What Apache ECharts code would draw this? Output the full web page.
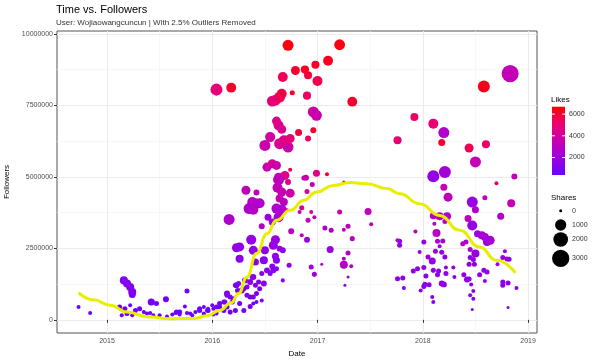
<!DOCTYPE html>
<html><head><meta charset="utf-8">
<script src="https://cdn.jsdelivr.net/npm/echarts@6/dist/echarts.min.js"></script>
<style>html,body{margin:0;padding:0;background:#fff}#c{width:600px;height:360px}</style>
</head><body><div id="c"></div>
<script>
// ---- data (decimal year, followers, likes, shares) ----
const dates = [
 2016.72,2017.21,2017.10,2016.98,2016.79,2016.88,2016.91,2017.00,2016.67,2016.04,
 2016.18,2016.76,2016.90,2017.33,2016.60,2016.64,2016.57,2016.66,2016.96,2016.99,
 2016.61,2016.63,2016.66,2016.82,2016.96,2016.91,2017.76,2016.50,2016.55,2016.64,
 2016.72,2016.68,2016.74,2016.52,2016.57,2016.61,2016.74,2016.99,2017.09,2016.63,
 2016.69,2016.87,
 2016.63,2016.72,2016.89,2016.95,2016.90,2016.32,2016.42,2016.38,2016.41,2016.45,
 2016.35,2016.39,2016.62,2016.66,2016.74,2016.64,2016.68,2016.61,2016.66,2016.63,
 2016.71,2016.85,2016.83,2016.16,2016.53,2016.57,2016.47,2016.91,2016.97,2016.94,
 2017.21,2017.48,2017.25,2017.07,2017.13,2017.25,2017.29,2017.51,2017.33,2016.75,
 2016.85,2016.90,2017.12,2017.29,2016.37,2016.26,2016.23,2016.39,2016.60,2016.58,
 2016.64,2016.67,2016.50,2016.49,2016.26,2016.41,2016.60,2016.61,2016.73,2016.57,
 2016.58,2016.94,2016.97,2017.04,2017.25,2017.25,2017.32,2017.29,2017.26,2016.67,
 2017.76,
 2016.14,2016.17,2016.12,2016.20,2016.23,2016.28,2016.33,2016.36,2016.39,2016.42,
 2016.45,2016.47,2016.36,2016.26,2016.22,2016.30,2016.07,2016.01,2015.95,2015.92,
 2016.04,2016.39,2016.44,2016.49,2016.52,2016.55,2016.47,2016.61,
 2015.56,2015.76,2015.43,2015.47,2015.65,2015.69,2015.74,2015.79,2015.84,2015.88,
 2015.92,2015.96,2016.00,2016.04,2016.07,2016.11,2016.14,2016.19,2016.22,2016.25,
 2016.24,2016.30,2016.33,2016.36,2016.39,2016.42,2016.31,2016.41,2016.38,2014.73,
 2014.84,2015.16,2015.19,2015.22,2015.24,2015.24,2015.42,
 2015.12,2015.17,2015.22,2015.27,2015.31,2015.35,2015.19,2015.14,2015.24,2015.38,
 2015.41,2015.44,2015.50,2015.57,2015.62,2015.66,2015.69,2015.76,2015.81,2015.88,
 2015.92,2015.96,2016.01,2016.04,2016.11,2016.14,2016.17,
 2018.58,2018.83,2017.92,2018.10,2018.20,2018.18,2018.44,2018.60,2018.50,2018.10,
 2018.21,2018.20,2018.24,2018.47,2018.50,2018.59,2018.70,2018.87,2018.84,2018.74,
 2018.10,2018.16,2018.23,2018.11,2018.21,2018.43,2018.47,2018.13,2017.93,
 2018.01,2018.14,2018.19,2018.16,2018.38,2018.41,2018.52,2018.56,2018.59,2018.61,
 2018.64,2017.78,2017.78,2017.97,2018.05,2018.09,2018.12,2018.18,2018.21,2018.45,
 2018.50,2018.45,2018.48,2018.44,2018.49,2018.78,2018.76,2018.80,2018.82,2018.71,
 2017.91,2017.95,2018.01,2018.10,2018.15,2018.03,2018.14,2018.22,2018.29,2018.22,
 2017.76,2017.81,2017.82,2017.98,2018.02,2018.06,2018.01,2018.18,2018.20,2018.30,
 2018.39,2018.42,2018.44,2018.54,2018.58,2018.61,2018.59,2018.46,2018.48,2018.45,
 2018.48,2018.76,2018.76,2018.81,2018.89,2018.09,2018.10,2018.47,2018.81
];
const followers = [
 9600000,9620000,9060000,8920000,8720000,8750000,8550000,8350000,8490000,8050000,
 8120000,7940000,7840000,7630000,7680000,7790000,7650000,7910000,7270000,7150000,
 6950000,6800000,6660000,6550000,6630000,6340000,6280000,6100000,6390000,6160000,
 6040000,6280000,6340000,5340000,5460000,5400000,5250000,5130000,5090000,4990000,
 5050000,4960000,
 4900000,4820000,4970000,4730000,4490000,4530000,4450000,4120000,4060000,4080000,
 3890000,3850000,4620000,4470000,4430000,4240000,4120000,3890000,3850000,3590000,
 3830000,3920000,3770000,3510000,3590000,3420000,3270000,3480000,3590000,3770000,
 3770000,3790000,4820000,3210000,3130000,3150000,3270000,3340000,2840000,3100000,
 2960000,2800000,2460000,2340000,2800000,2550000,2520000,2430000,2800000,2610000,
 2490000,2430000,2430000,2080000,2140000,2020000,2220000,2080000,1910000,1870000,
 1730000,1850000,1590000,1940000,1930000,2140000,1870000,1500000,1210000,1380000,
 2780000,
 920000,800000,620000,740000,1210000,1030000,1150000,1320000,800000,920000,
 1090000,680000,470000,570000,330000,330000,450000,390000,330000,220000,
 220000,1500000,1320000,1270000,1730000,1620000,1620000,1790000,
 720000,1010000,620000,570000,240000,270000,470000,220000,270000,330000,
 450000,390000,510000,450000,570000,620000,860000,620000,1210000,1270000,
 1030000,1090000,860000,800000,570000,620000,1380000,1210000,1500000,450000,
 240000,1380000,1270000,1150000,970000,890000,620000,
 450000,390000,510000,330000,390000,270000,220000,160000,160000,220000,
 240000,160000,160000,120000,190000,270000,190000,240000,160000,390000,
 190000,330000,190000,270000,330000,450000,270000,
 8160000,8610000,7090000,6860000,6550000,6200000,6010000,6140000,5520000,5020000,
 5170000,4640000,4290000,4120000,3850000,4270000,4780000,5010000,4080000,3620000,
 3640000,3620000,3620000,3360000,3440000,3540000,3300000,3040000,3090000,
 2720000,2750000,2760000,2570000,2660000,2720000,3010000,2960000,2900000,2720000,
 2780000,2750000,2610000,2370000,2200000,2060000,2400000,2360000,2200000,2460000,
 2320000,2180000,2110000,1940000,1940000,2400000,2180000,2130000,2120000,1940000,
 1710000,1790000,1830000,1730000,1710000,1530000,1580000,1620000,1830000,1830000,
 1440000,1460000,1110000,1030000,1240000,1230000,1170000,1270000,1240000,1500000,
 1580000,1410000,1430000,1580000,1730000,1670000,1360000,1240000,1010000,860000,
 740000,1320000,1210000,1290000,1110000,800000,620000,360000,430000
];
const likes = [
 6500,6400,6200,6100,6000,6300,5900,5600,5400,4900,
 6100,6200,5300,6000,5200,5500,4900,5700,3800,3600,
 4700,4500,4400,5900,6000,5300,4900,3600,3900,4300,
 3700,4600,5000,3500,4200,3700,5800,4600,6000,3400,
 4500,3300,
 3200,4400,3600,3400,4300,3200,3300,2700,3000,2600,
 2500,2900,3300,3500,3700,3400,3200,2600,2500,2400,
 4300,4400,3500,2600,2000,2100,3000,3300,3400,4200,
 3600,3400,5300,2500,2700,3000,3200,3300,3000,3000,
 3100,2000,1900,2900,1800,1600,1700,1600,1900,1800,
 1700,1500,1500,1400,1400,1400,1600,1500,1500,1400,
 1300,2200,1700,3000,2900,2500,2800,1500,1300,1300,
 3000,
 1100,900,800,900,1200,1000,1100,1200,900,1100,
 1200,900,700,800,700,700,700,600,600,500,
 600,1300,1200,1300,1400,1300,1300,1400,
 700,700,600,600,500,500,500,500,500,600,
 600,600,600,700,700,800,1000,800,1100,1100,
 1000,1100,900,900,800,800,1200,1200,1300,500,
 500,1300,1200,1200,1100,1100,700,
 500,500,500,500,500,500,450,450,450,450,
 450,450,450,450,450,500,450,450,450,500,
 450,500,450,500,600,650,600,
 6300,3300,5300,5100,2700,6000,5500,5200,3400,1700,
 2300,3500,3100,1900,2600,3300,5200,3600,3500,2800,
 3000,3100,2800,3000,3100,3200,1800,3000,3000,
 1800,2300,2300,1900,2800,2500,2000,2300,2400,2000,
 2300,1800,1700,1800,1900,1800,2000,1800,1700,2800,
 1800,1700,1800,1700,1600,1800,1800,1800,1700,2000,
 1600,1600,1700,1600,1700,1500,1600,1600,1700,1700,
 1500,1500,1400,1400,1500,1500,1500,1500,1600,1500,
 1600,1500,1500,1600,1600,1600,1500,1400,1400,1300,
 1300,1500,1500,1500,1400,1300,1300,1100,1100
];
const shares = [
 940,900,700,380,520,400,380,720,700,1190,
 700,60,380,700,900,950,900,700,950,900,
 520,700,520,235,130,130,380,940,720,940,
 900,700,520,530,530,530,15,235,15,530,
 530,60,
 940,130,130,60,60,530,130,720,940,720,
 940,720,720,530,530,370,370,720,720,720,
 15,60,15,940,235,235,130,60,15,15,
 60,235,0,60,60,15,60,15,60,130,
 15,130,235,60,720,530,530,530,530,530,
 130,130,370,370,370,235,235,235,60,130,
 130,60,60,0,370,15,15,0,0,15,
 15,
 130,60,60,60,130,130,60,130,60,60,
 60,15,60,60,60,60,60,15,15,15,
 15,130,60,130,130,60,60,60,
 130,60,60,60,15,60,15,15,15,60,
 15,15,15,60,60,60,60,60,60,60,
 60,60,60,60,15,15,130,60,60,15,
 15,370,370,370,370,235,235,
 60,60,15,60,60,15,60,15,15,15,
 15,15,15,15,15,60,15,15,15,60,
 15,60,15,15,60,60,60,
 1190,2900,370,720,940,235,530,370,940,1190,
 1190,235,530,940,235,60,15,130,370,235,
 235,370,370,15,60,235,720,370,15,
 60,60,60,15,60,60,235,370,370,370,
 530,60,60,15,60,235,60,60,60,60,
 370,60,60,60,60,15,60,60,60,15,
 60,60,60,60,60,60,60,60,15,15,
 60,60,15,15,60,60,60,130,130,15,
 60,130,60,60,60,60,15,15,15,15,
 15,60,60,60,15,15,15,0,0
];
// loess trend
const trendDates = [2014.73,2014.87,2015.03,2015.19,2015.38,2015.60,2015.82,2015.96,2016.07,2016.18,
  2016.25,2016.33,2016.42,2016.52,2016.61,2016.74,2016.87,2016.99,2017.15,2017.31,
  2017.47,2017.66,2017.78,2017.97,2018.16,2018.35,2018.54,2018.70,2018.88];
const trendFollowers = [950000,700000,510000,270000,110000,40000,50000,150000,330000,600000,
  920000,1500000,2320000,3010000,3480000,3830000,4180000,4470000,4700000,4800000,
  4760000,4590000,4410000,4060000,3650000,3130000,2550000,2080000,1640000];
// axes / legend values
const xTicks = [2015, 2016, 2017, 2018, 2019];
const xMinorTicks = [2015.5, 2016.5, 2017.5, 2018.5];
const yTicks = [0, 2500000, 5000000, 7500000, 10000000];
const yMinorTicks = [1250000, 3750000, 6250000, 8750000];
const likesLegendTicks = [2000, 4000, 6000];
const sharesLegendValues = [0, 1000, 2000, 3000];
const likesRange = [390, 6680];
const likeColors = ['#6c00ff', '#9c00e0', '#c800b0', '#ea0070', '#ff0000'];

if (new Set([dates.length, followers.length, likes.length, shares.length]).size !== 1) {
  throw new Error('length mismatch ' + [dates.length, followers.length, likes.length, shares.length]);
}

const FONT = '"Liberation Sans", Arial, sans-serif';
const X_MIN = 2014.525, X_MAX = 2019.085, Y_MIN = -460000, Y_MAX = 10100000;
const sizeOf = s => 3 + 14.3 * Math.sqrt(s / 3000);

const points = dates.map((d, i) => [d, followers[i], likes[i], shares[i]]);
const trend = trendDates.map((d, i) => [d, trendFollowers[i]]);

const chart = echarts.init(document.getElementById('c'), null, {renderer: 'canvas'});

// legend graphics
const g = [];
const LX = 552;
g.push({type:'text', left: LX - 1, top: 96, style:{text:'Likes', fontSize: 8, fontFamily: FONT, fill:'#000'}});
const barTop = 106.7, barH = 68.3, barW = 13;
g.push({type:'rect', shape:{x: LX, y: barTop, width: barW, height: barH},
  style:{fill:{type:'linear', x:0, y:1, x2:0, y2:0,
    colorStops: likeColors.map((c, i) => ({offset: i / (likeColors.length - 1), color: c}))}}});
likesLegendTicks.forEach(v => {
  const y = barTop + barH - (v - likesRange[0]) / (likesRange[1] - likesRange[0]) * barH;
  g.push({type:'line', shape:{x1: LX, y1: y, x2: LX + 3, y2: y}, style:{stroke:'#fff', lineWidth: 1}});
  g.push({type:'line', shape:{x1: LX + barW - 3, y1: y, x2: LX + barW, y2: y}, style:{stroke:'#fff', lineWidth: 1}});
  g.push({type:'text', x: LX + barW + 4, y: y, style:{text: String(v), fontSize: 7, fontFamily: FONT, fill:'#333',
    textVerticalAlign:'middle', verticalAlign:'middle'}});
});
g.push({type:'text', left: LX - 1, top: 194, style:{text:'Shares', fontSize: 8, fontFamily: FONT, fill:'#000'}});
const keyY = [210.7, 225, 239.5, 258.3];
sharesLegendValues.forEach((v, i) => {
  g.push({type:'circle', shape:{cx: 560.7, cy: keyY[i], r: sizeOf(v) / 2}, style:{fill:'#000'}});
  g.push({type:'text', x: 572, y: keyY[i], style:{text: String(v), fontSize: 7, fontFamily: FONT, fill:'#333',
    textVerticalAlign:'middle', verticalAlign:'middle'}});
});

const gridLine = {show: true, lineStyle: {color: '#ebebeb', width: 1}};
const minorLine = {show: true, lineStyle: {color: '#f3f3f3', width: 0.7}};

chart.setOption({
  animation: false,
  backgroundColor: '#fff',
  textStyle: {fontFamily: FONT},
  title: {
    text: 'Time vs. Followers',
    subtext: 'User: Wojiaowangcuncun | With 2.5% Outliers Removed',
    left: 56, top: 4, padding: 0, itemGap: 4,
    textStyle: {fontSize: 11, fontWeight: 'normal', color: '#000', fontFamily: FONT},
    subtextStyle: {fontSize: 8, color: '#333', fontFamily: FONT}
  },
  grid: {left: 57, right: 63, top: 31, bottom: 27, containLabel: false, outerBoundsMode: 'none',
    show: true, borderColor: '#555', borderWidth: 1, backgroundColor: '#fff'},
  xAxis: [{
    type: 'value', min: X_MIN, max: X_MAX,
    name: 'Date', nameLocation: 'middle', nameGap: 15,
    nameTextStyle: {fontSize: 8, color: '#000', fontFamily: FONT},
    axisLine: {show: false},
    axisTick: {show: true, length: 3, lineStyle: {color: '#333'}, customValues: xTicks},
    axisLabel: {customValues: xTicks, formatter: v => String(Math.round(v)), fontSize: 7, color: '#4d4d4d', margin: 5},
    splitLine: gridLine
  }, {
    type: 'value', min: X_MIN, max: X_MAX, position: 'bottom',
    axisLine: {show: false}, axisTick: {show: false, customValues: xMinorTicks},
    axisLabel: {show: false, customValues: xMinorTicks},
    splitLine: minorLine
  }],
  yAxis: [{
    type: 'value', min: Y_MIN, max: Y_MAX,
    name: 'Followers', nameLocation: 'middle', nameGap: 41,
    nameTextStyle: {fontSize: 8, color: '#000', fontFamily: FONT},
    axisLine: {show: false},
    axisTick: {show: true, length: 3, lineStyle: {color: '#333'}, customValues: yTicks},
    axisLabel: {customValues: yTicks, formatter: v => String(v), fontSize: 7, color: '#4d4d4d', margin: 4},
    splitLine: gridLine
  }, {
    type: 'value', min: Y_MIN, max: Y_MAX, position: 'left',
    axisLine: {show: false}, axisTick: {show: false, customValues: yMinorTicks},
    axisLabel: {show: false, customValues: yMinorTicks},
    splitLine: minorLine
  }],
  visualMap: {
    show: false, type: 'continuous', seriesIndex: 0, dimension: 2,
    min: likesRange[0], max: likesRange[1], inRange: {color: likeColors}
  },
  series: [{
    type: 'scatter', xAxisIndex: 0, yAxisIndex: 0, data: points,
    symbolSize: v => sizeOf(v[3]),
    itemStyle: {opacity: 1}, z: 2
  }, {
    type: 'line', xAxisIndex: 0, yAxisIndex: 0, data: trend,
    smooth: 0.5, smoothMonotone: 'x', showSymbol: false, symbol: 'none',
    lineStyle: {color: '#e8ee00', width: 3}, z: 3
  }],
  graphic: g
});
</script></body></html>
